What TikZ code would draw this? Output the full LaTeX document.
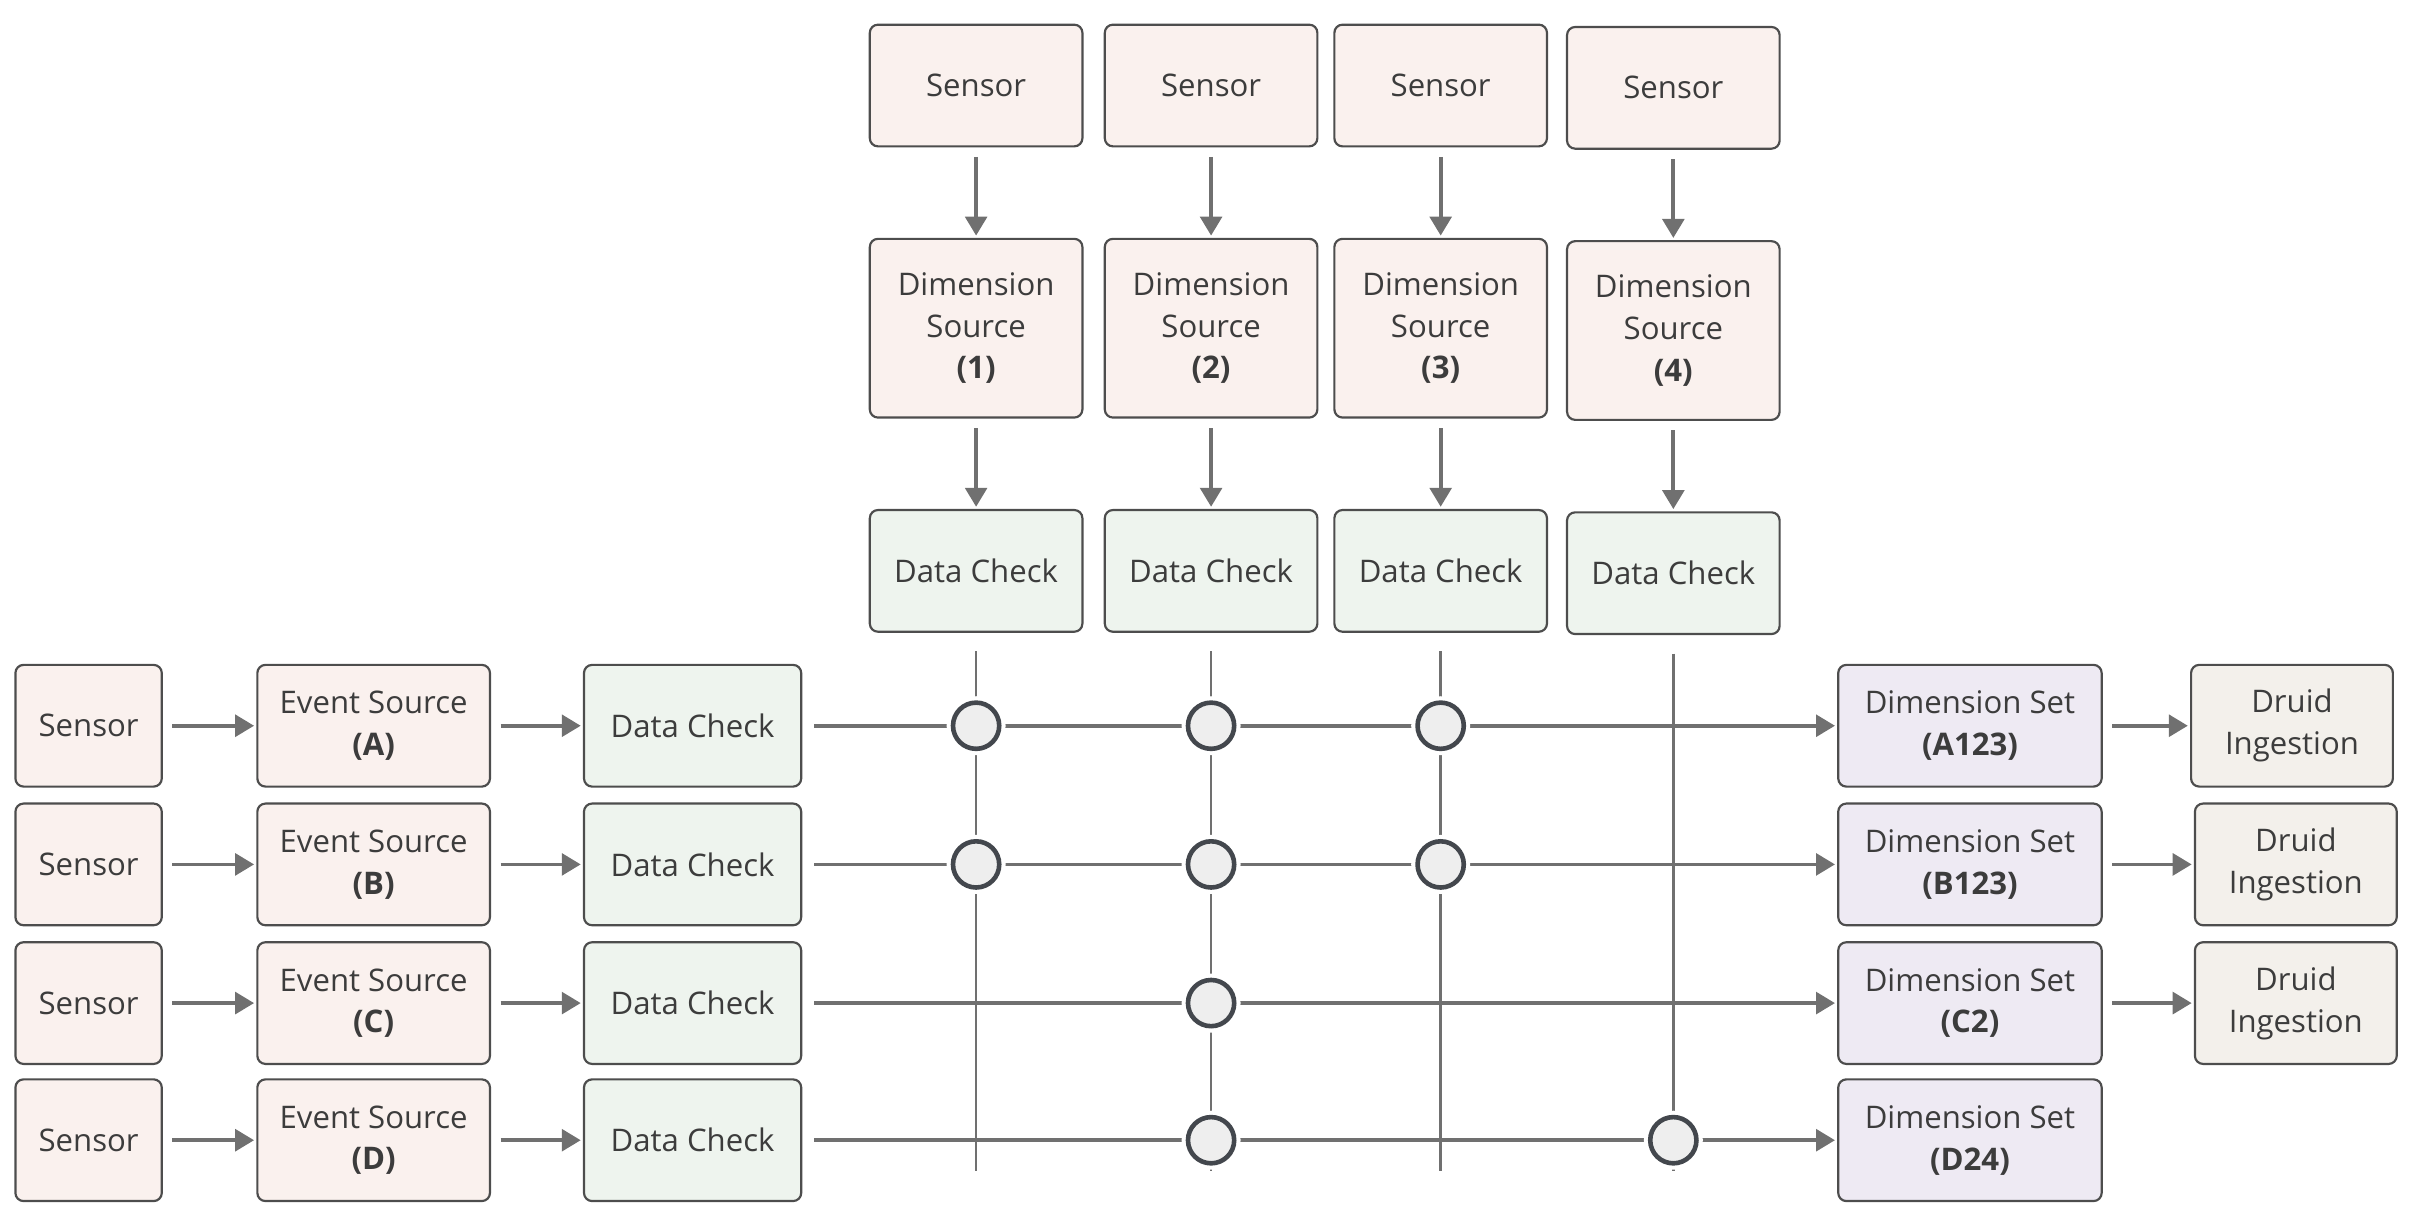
\documentclass[tikz,border=0pt]{standalone}
\usepackage{fontspec}
\setmainfont{Open Sans}
\usetikzlibrary{arrows.meta,positioning}

\definecolor{ink}{HTML}{3C3C3C}
\definecolor{boxline}{HTML}{4D4D4D}
\definecolor{wire}{HTML}{707070}
\definecolor{ring}{HTML}{43474D}
\definecolor{dotfill}{HTML}{EEEEEE}
\definecolor{srcfill}{HTML}{FAF1EE}
\definecolor{chkfill}{HTML}{EEF4EE}
\definecolor{setfill}{HTML}{EEEAF3}
\definecolor{druidfill}{HTML}{F3F0EB}

\begin{document}
\begin{tikzpicture}[x=0.02cm,y=-0.02cm,
  font=\fontsize{11.5}{15.4}\selectfont,text=ink,
  box/.style={draw=boxline,line width=0.8pt,rounded corners=3pt,inner sep=0pt,
    align=center,minimum height=1.58cm},
  srcbox/.style={box,fill=srcfill},
  chkbox/.style={box,fill=chkfill},
  colbox/.style={minimum width=2.76cm},
  dimbox/.style={srcbox,colbox,minimum height=2.32cm},
  setbox/.style={box,fill=setfill,minimum width=3.42cm},
  druidbox/.style={box,fill=druidfill,minimum width=2.62cm},
  flow/.style={draw=wire,line width=1.4pt,-{Triangle[length=7pt,width=8pt]},
    shorten <=3.5pt,shorten >=0.8pt},
  grid/.style={draw=wire,line width=1pt,shorten <=6.8pt},
  junction/.style={circle,draw=ring,fill=dotfill,line width=1.7pt,
    minimum size=0.6cm,inner sep=0pt,preaction={draw=white,line width=4.7pt}}]
  % page frame
  \useasboundingbox (0,0) rectangle (1568,788);

  % the four dimension columns on top
  \foreach \c/\x/\dy in {1/633.5/0,2/786/0,3/935/0,4/1086/1.5} {
    \node[srcbox,colbox] (topsensor\c) at (\x,55.5+\dy) {Sensor};
    \node[dimbox] (dimsrc\c) at (\x,213+\dy) {Dimension\\Source\\\textbf{(\c)}};
    \node[chkbox,colbox] (topcheck\c) at (\x,370.5+\dy) {Data Check};
    \coordinate (bottom\c) at (\x,760);
    \draw[flow] (topsensor\c) -- (dimsrc\c);
    \draw[flow] (dimsrc\c) -- (topcheck\c);
    \draw[grid] (topcheck\c) -- (bottom\c);
  }

  % the four event rows
  \foreach \r/\y/\tag in {A/471/A123,B/561/B123,C/651/C2,D/740/D24} {
    \node[srcbox,minimum width=1.9cm] (sensor\r) at (57.5,\y) {Sensor};
    \node[srcbox,minimum width=3.02cm] (event\r) at (242.5,\y) {Event Source\\\textbf{(\r)}};
    \node[chkbox,minimum width=2.82cm] (check\r) at (449.5,\y) {Data Check};
    \node[setbox] (set\r) at (1278.5,\y) {Dimension Set\\\textbf{(\tag)}};
    \draw[flow] (sensor\r) -- (event\r);
    \draw[flow] (event\r) -- (check\r);
    \draw[flow,shorten <=4.5pt] (check\r) -- (set\r);
  }

  % ingestion for the first three sets
  \foreach \r/\x in {A/1487.5,B/1490,C/1490} {
    \node[druidbox] (druid\r) at (\x,0 |- set\r) {Druid\\Ingestion};
    \draw[flow] (set\r) -- (druid\r);
  }

  % joins where a row takes a dimension
  \foreach \r/\c in {A/1,A/2,A/3,B/1,B/2,B/3,C/2,D/2,D/4}
    \node[junction] (join\r\c) at (bottom\c |- check\r) {};
\end{tikzpicture}
\end{document}
